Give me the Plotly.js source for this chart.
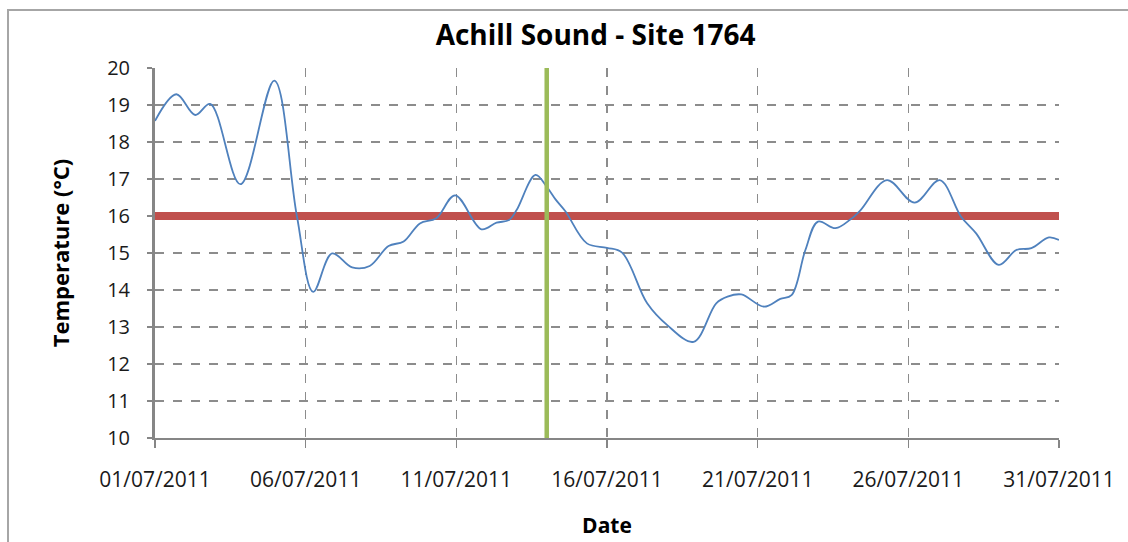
<!DOCTYPE html>
<html>
<head>
<meta charset="utf-8">
<script src="https://cdn.plot.ly/plotly-3.0.1.min.js"></script>
<style>html,body{margin:0;padding:0;background:#fff;}#chart{width:1128px;height:542px;}</style>
</head>
<body>
<div id="chart"></div>
<script>
// Temperature readings
const dates = [
  "2011-07-01 00:00","2011-07-01 17:00","2011-07-02 08:00","2011-07-02 20:00","2011-07-03 20:00",
  "2011-07-04 23:00","2011-07-05 17:00","2011-07-06 06:00","2011-07-06 21:00","2011-07-07 13:00",
  "2011-07-08 03:00","2011-07-08 18:00","2011-07-09 06:00","2011-07-09 19:00","2011-07-10 08:00",
  "2011-07-10 23:00","2011-07-11 20:00","2011-07-12 08:00","2011-07-12 18:00","2011-07-13 00:00",
  "2011-07-13 15:00","2011-07-14 00:00","2011-07-14 07:00","2011-07-14 15:00","2011-07-15 08:00",
  "2011-07-16 00:00","2011-07-16 12:00","2011-07-17 08:00","2011-07-18 00:00","2011-07-18 21:00",
  "2011-07-19 15:00","2011-07-20 00:00","2011-07-20 11:00","2011-07-21 05:00","2011-07-21 18:00",
  "2011-07-22 03:00","2011-07-22 14:00","2011-07-23 00:00","2011-07-23 14:00","2011-07-24 02:00",
  "2011-07-24 10:00","2011-07-25 07:00","2011-07-26 05:00","2011-07-27 01:00","2011-07-27 18:00",
  "2011-07-28 06:00","2011-07-29 00:00","2011-07-29 14:00","2011-07-30 02:00","2011-07-30 16:00",
  "2011-07-31 00:00"
];
const temperature = [
  18.57, 19.29, 18.73, 19.03, 16.86,
  19.66, 16.00, 13.95, 14.99, 14.61,
  14.65, 15.19, 15.31, 15.80, 15.94,
  16.56, 15.64, 15.82, 15.89, 16.16,
  17.11, 16.79, 16.45, 16.12, 15.26,
  15.14, 15.01, 13.64, 13.05, 12.60,
  13.64, 13.82, 13.88, 13.55, 13.76,
  13.86, 15.08, 15.85, 15.67, 15.91,
  16.16, 16.97, 16.36, 16.97, 15.98,
  15.53, 14.68, 15.08, 15.13, 15.42,
  15.35
];
// Threshold line
const thresholdDates = ["2011-07-01 00:00", "2011-07-31 00:00"];
const thresholdValues = [16, 16];
// Marker (vertical) line
const markerDates = ["2011-07-14 00:00", "2011-07-14 00:00"];
const markerValues = [10, 20];
// Axis ticks
const xTickVals = ["2011-07-01","2011-07-06","2011-07-11","2011-07-16","2011-07-21","2011-07-26","2011-07-31"];
const xTickText = ["01/07/2011","06/07/2011","11/07/2011","16/07/2011","21/07/2011","26/07/2011","31/07/2011"];

const FONT = "Open Sans, Lato, sans-serif";
const traces = [
  {x: thresholdDates, y: thresholdValues, mode: "lines", line: {color: "#C0504D", width: 8}, hoverinfo: "skip"},
  {x: dates, y: temperature, mode: "lines", line: {color: "#4F81BD", width: 1.8, shape: "spline", smoothing: 1}},
  {x: markerDates, y: markerValues, mode: "lines", line: {color: "#9BBB59", width: 4.5}, hoverinfo: "skip"}
];

const layout = {
  width: 1128, height: 542,
  margin: {l: 155, r: 69, t: 68, b: 104},
  paper_bgcolor: "#fff", plot_bgcolor: "#fff",
  showlegend: false,
  font: {family: FONT, color: "#1a1a1a"},
  title: {text: "<b>Achill Sound - Site 1764</b>", font: {family: FONT, size: 28, color: "#000"},
          x: 0.528, xanchor: "center", y: 0.935, yanchor: "middle"},
  xaxis: {
    type: "date", range: ["2011-07-01", "2011-07-31"],
    tickmode: "array", tickvals: xTickVals, ticktext: xTickText,
    ticks: "outside", ticklen: 8, tickcolor: "#868686", tickwidth: 1.5,
    ticklabelstandoff: 14,
    tickfont: {family: FONT, size: 21, color: "#1a1a1a"},
    showgrid: true, gridcolor: "#8c8c8c", gridwidth: 1.3, griddash: "dash",
    showline: true, linecolor: "#868686", linewidth: 2,
    zeroline: false,
    title: {text: "<b>Date</b>", font: {family: FONT, size: 21, color: "#000"}, standoff: 26}
  },
  yaxis: {
    range: [10, 20], dtick: 1, tick0: 10,
    ticks: "outside", ticklen: 5, tickcolor: "#868686", tickwidth: 1.5,
    ticklabelstandoff: 13,
    tickfont: {family: FONT, size: 20, color: "#1a1a1a"},
    showgrid: true, gridcolor: "#8c8c8c", gridwidth: 1.3, griddash: "dash",
    showline: true, linecolor: "#868686", linewidth: 3,
    zeroline: false,
    title: {text: "<b>Temperature (°C)</b>", font: {family: FONT, size: 22, color: "#000"}, standoff: 32}
  },
  shapes: [
    {type: "rect", xref: "paper", yref: "paper", x0: -0.1626, x1: 1.2, y0: -0.4, y1: 1.1568,
     line: {color: "#a6a6a6", width: 2}, fillcolor: "rgba(0,0,0,0)", layer: "below"}
  ]
};

Plotly.newPlot("chart", traces, layout, {displayModeBar: false, staticPlot: true});
</script>
</body>
</html>
